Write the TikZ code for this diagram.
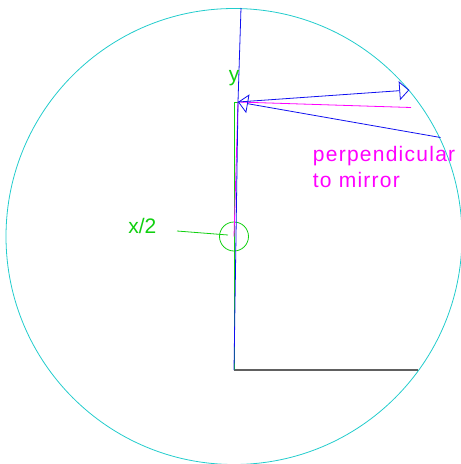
\documentclass[tikz,border=0pt]{standalone}
\usepackage{fontspec}
\setmainfont{Liberation Sans}
\usepackage{tikz}
\usetikzlibrary{arrows.meta}
\definecolor{mirrorCyan}{HTML}{22CCCC}
\definecolor{rayBlue}{HTML}{1010F0}
\definecolor{guideGreen}{HTML}{10D010}
\definecolor{normalPink}{HTML}{FF00FF}
\definecolor{baseGray}{HTML}{606060}

\begin{document}
\begin{tikzpicture}[x=1pt,y=-1pt,line width=0.8pt,
    ray/.style={rayBlue},
    guide/.style={guideGreen},
    lbl/.style={inner sep=0pt,font=\fontsize{21}{26.7}\selectfont},
    hollow/.style={-{Triangle[open,length=10pt,width=19pt]}}]
  \useasboundingbox (0,0) rectangle (461,464);
  % points of the figure
  \coordinate (O) at (234,236.5);
  \coordinate (B) at (234,370);
  \coordinate (G) at (418,370);
  \coordinate (T) at (241,8);
  \coordinate (P) at (238,102);
  \coordinate (Pg) at (234,102);
  \coordinate (Q) at (409.3,90);
  \coordinate (R) at (440.5,137.5);
  \coordinate (M) at (411,107.5);
  \coordinate (xtail) at (177,231);
  \coordinate (xhead) at (228,235);
  \draw[mirrorCyan] (O) circle[radius=228];
  \draw[baseGray,line width=1.5pt] (B) -- (G);
  \draw[guide] (B) -- (Pg) -- (P);
  \draw[guide] (O) circle[radius=14.5];
  \draw[guide] (xtail) -- (xhead);
  \draw[normalPink] (P) -- (M);
  \draw[normalPink] (P) -- (O);
  \draw[ray] (T) -- (P) -- (B);
  \draw[ray,hollow] (P) -- (Q);
  \draw[ray,hollow] (R) -- (P);
  \node[lbl,guideGreen,anchor=base] (ylabel) at (234,81) {y};
  \node[lbl,guideGreen,anchor=base west] (xlabel) at (128,233.3) {x/2};
  \node[lbl,normalPink,anchor=north west,align=left] (perp) at (312.5,145.5)
    {\addfontfeature{LetterSpace=6}perpendicular\\\addfontfeature{LetterSpace=6}to mirror};
\end{tikzpicture}
\end{document}
